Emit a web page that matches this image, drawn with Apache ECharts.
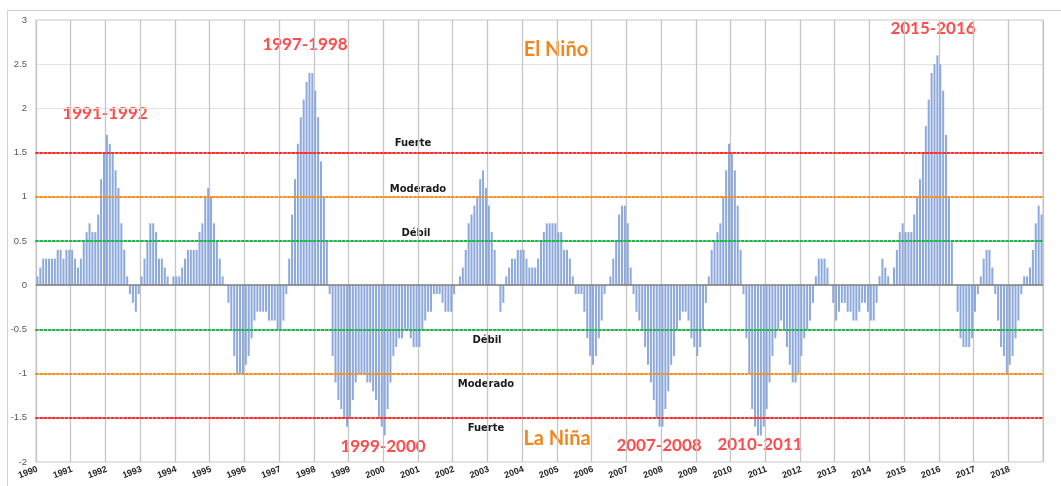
<!DOCTYPE html>
<html>
<head>
<meta charset="utf-8">
<title>ONI 1990-2018</title>
<script src="https://cdn.jsdelivr.net/npm/echarts@6/dist/echarts.min.js"></script>
<style>
  html, body { margin: 0; padding: 0; background: #fff; }
  #chart { width: 1061px; height: 486px; }
</style>
</head>
<body>
<div id="chart"></div>
<script>
// years on the x axis (one label per January)
const years = [1990, 1991, 1992, 1993, 1994, 1995, 1996, 1997, 1998, 1999,
  2000, 2001, 2002, 2003, 2004, 2005, 2006, 2007, 2008, 2009,
  2010, 2011, 2012, 2013, 2014, 2015, 2016, 2017, 2018]
const months = ['01', '02', '03', '04', '05', '06', '07', '08', '09', '10', '11', '12']

// monthly index, one row per year (Jan..Dec)
const oni = [
  0.1, 0.2, 0.3, 0.3, 0.3, 0.3, 0.3, 0.4, 0.4, 0.3, 0.4, 0.4,        // 1990
  0.4, 0.3, 0.2, 0.3, 0.5, 0.6, 0.7, 0.6, 0.6, 0.8, 1.2, 1.5,        // 1991
  1.7, 1.6, 1.5, 1.3, 1.1, 0.7, 0.4, 0.1, -0.1, -0.2, -0.3, -0.1,    // 1992
  0.1, 0.3, 0.5, 0.7, 0.7, 0.6, 0.3, 0.3, 0.2, 0.1, 0.0, 0.1,        // 1993
  0.1, 0.1, 0.2, 0.3, 0.4, 0.4, 0.4, 0.4, 0.6, 0.7, 1.0, 1.1,        // 1994
  1.0, 0.7, 0.5, 0.3, 0.1, 0.0, -0.2, -0.5, -0.8, -1.0, -1.0, -1.0,  // 1995
  -0.9, -0.8, -0.6, -0.4, -0.3, -0.3, -0.3, -0.3, -0.4, -0.4, -0.4, -0.5, // 1996
  -0.5, -0.4, -0.1, 0.3, 0.8, 1.2, 1.6, 1.9, 2.1, 2.3, 2.4, 2.4,     // 1997
  2.2, 1.9, 1.4, 1.0, 0.5, -0.1, -0.8, -1.1, -1.3, -1.4, -1.5, -1.6, // 1998
  -1.5, -1.3, -1.1, -1.0, -1.0, -1.0, -1.1, -1.1, -1.2, -1.3, -1.5, -1.6, // 1999
  -1.7, -1.4, -1.1, -0.8, -0.7, -0.6, -0.6, -0.5, -0.5, -0.6, -0.7, -0.7, // 2000
  -0.7, -0.5, -0.4, -0.3, -0.3, -0.1, -0.1, -0.1, -0.2, -0.3, -0.3, -0.3, // 2001
  -0.1, 0.0, 0.1, 0.2, 0.4, 0.7, 0.8, 0.9, 1.0, 1.2, 1.3, 1.1,       // 2002
  0.9, 0.6, 0.4, 0.0, -0.3, -0.2, 0.1, 0.2, 0.3, 0.3, 0.4, 0.4,      // 2003
  0.4, 0.3, 0.2, 0.2, 0.2, 0.3, 0.5, 0.6, 0.7, 0.7, 0.7, 0.7,        // 2004
  0.6, 0.6, 0.4, 0.4, 0.3, 0.1, -0.1, -0.1, -0.1, -0.3, -0.6, -0.8,  // 2005
  -0.9, -0.8, -0.6, -0.4, -0.1, 0.0, 0.1, 0.3, 0.5, 0.8, 0.9, 0.9,   // 2006
  0.7, 0.2, -0.1, -0.3, -0.4, -0.5, -0.7, -0.9, -1.1, -1.3, -1.5, -1.6, // 2007
  -1.6, -1.4, -1.2, -0.9, -0.8, -0.5, -0.4, -0.3, -0.3, -0.4, -0.6, -0.7, // 2008
  -0.8, -0.7, -0.5, -0.2, 0.1, 0.4, 0.5, 0.6, 0.7, 1.0, 1.3, 1.6,   // 2009
  1.5, 1.3, 0.9, 0.4, -0.1, -0.6, -1.0, -1.4, -1.6, -1.7, -1.7, -1.6, // 2010
  -1.4, -1.1, -0.8, -0.6, -0.5, -0.4, -0.5, -0.7, -0.9, -1.1, -1.1, -1.0, // 2011
  -0.8, -0.6, -0.5, -0.4, -0.2, 0.1, 0.3, 0.3, 0.3, 0.2, 0.0, -0.2,  // 2012
  -0.4, -0.3, -0.2, -0.2, -0.3, -0.3, -0.4, -0.4, -0.3, -0.2, -0.2, -0.3, // 2013
  -0.4, -0.4, -0.2, 0.1, 0.3, 0.2, 0.1, 0.0, 0.2, 0.4, 0.6, 0.7,    // 2014
  0.6, 0.6, 0.6, 0.8, 1.0, 1.2, 1.5, 1.8, 2.1, 2.4, 2.5, 2.6,        // 2015
  2.5, 2.2, 1.7, 1.0, 0.5, 0.0, -0.3, -0.6, -0.7, -0.7, -0.7, -0.6,  // 2016
  -0.3, -0.1, 0.1, 0.3, 0.4, 0.4, 0.2, -0.1, -0.4, -0.7, -0.8, -1.0, // 2017
  -0.9, -0.8, -0.6, -0.4, -0.1, 0.1, 0.1, 0.2, 0.4, 0.7, 0.9, 0.8    // 2018
]

// intensity thresholds (mirrored for La Niña)
const levels = [1.5, 1.0, 0.5]
const levelNames = ['Fuerte', 'Moderado', 'Débil']
const levelColors = ['#ff2a2a', '#f5901e', '#1fb54a']

// events annotated on the chart
const events = ['1991-1992', '1997-1998', '1999-2000', '2007-2008', '2010-2011', '2015-2016']

const monthKeys = years.flatMap(y => months.map(m => y + '-' + m))

const chart = echarts.init(document.getElementById('chart'))

const thresholdLines = []
levels.forEach((lv, i) => {
  const style = { color: levelColors[i], type: [2, 2.2], width: 2, cap: 'round' }
  thresholdLines.push({ yAxis: lv, lineStyle: style })
  thresholdLines.push({ yAxis: -lv, lineStyle: style })
})

const labelFont = 'bold 10px "DejaVu Sans", sans-serif'
const eventFont = 'bold 17px Lato, "Open Sans", sans-serif'
const ninoFont = 'bold 20px Lato, "Open Sans", sans-serif'

// pixel spots of the text annotations
const levelLabelPos = [[413, 143, 486, 428], [418, 189, 486, 384], [416, 233, 487, 340]]
const eventPos = [[105, 114], [305, 45], [383, 447], [659, 446], [760, 445], [933, 29]]

const texts = []
levels.forEach((lv, i) => {
  const p = levelLabelPos[i]
  texts.push({ type: 'text', x: p[0], y: p[1], silent: true,
    style: { text: levelNames[i], font: labelFont, fill: '#1a1a1a', align: 'center', verticalAlign: 'middle' } })
  texts.push({ type: 'text', x: p[2], y: p[3], silent: true,
    style: { text: levelNames[i], font: labelFont, fill: '#1a1a1a', align: 'center', verticalAlign: 'middle' } })
})
events.forEach((ev, i) => {
  texts.push({ type: 'text', x: eventPos[i][0], y: eventPos[i][1], silent: true,
    style: { text: ev, font: eventFont, fill: '#ff4b4b', align: 'center', verticalAlign: 'middle' } })
})
texts.push({ type: 'text', x: 556, y: 50, silent: true,
  style: { text: 'El Niño', font: ninoFont, fill: '#f0871e', align: 'center', verticalAlign: 'middle' } })
texts.push({ type: 'text', x: 557, y: 439, silent: true,
  style: { text: 'La Niña', font: ninoFont, fill: '#f0871e', align: 'center', verticalAlign: 'middle' } })

const option = {
  animation: false,
  backgroundColor: '#ffffff',
  grid: { left: 36, right: 18, top: 20, bottom: 24, show: true, borderColor: '#c6c6c6', borderWidth: 1 },
  xAxis: {
    type: 'category',
    data: monthKeys,
    axisLine: { show: false, onZero: false },
    axisTick: { show: false },
    axisLabel: {
      interval: 0,
      rotate: 20,
      margin: 7,
      fontSize: 9,
      fontWeight: 'bold',
      fontFamily: '"Liberation Sans", Arial, sans-serif',
      color: '#262626',
      formatter: v => (v.endsWith('-01') ? v.slice(0, 4) : '')
    },
    splitLine: {
      show: true,
      interval: i => i % 12 === 0,
      lineStyle: { color: '#c6c6c6', width: 1.3 }
    }
  },
  yAxis: {
    type: 'value',
    min: -2,
    max: 3,
    interval: 0.5,
    axisLine: { show: false },
    axisTick: { show: false },
    axisLabel: {
      margin: 9,
      fontSize: 9.5,
      fontFamily: '"Liberation Sans", Arial, sans-serif',
      color: '#595959'
    },
    splitLine: { lineStyle: { color: '#e3e3e3', width: 1 } }
  },
  series: [
    {
      type: 'bar',
      data: oni,
      barCategoryGap: '30%',
      itemStyle: { color: '#8eaadc' },
      markLine: {
        silent: true,
        symbol: 'none',
        label: { show: false },
        data: [{ yAxis: 0, lineStyle: { color: '#7f7f7f', type: 'solid', width: 1.5 } }].concat(thresholdLines)
      }
    }
  ],
  graphic: [
    { type: 'rect', silent: true, shape: { x: 7.5, y: 10.5, width: 1060, height: 480 },
      style: { fill: 'none', stroke: '#d0d0d0', lineWidth: 1 } }
  ].concat(texts)
}

chart.setOption(option)
</script>
</body>
</html>
